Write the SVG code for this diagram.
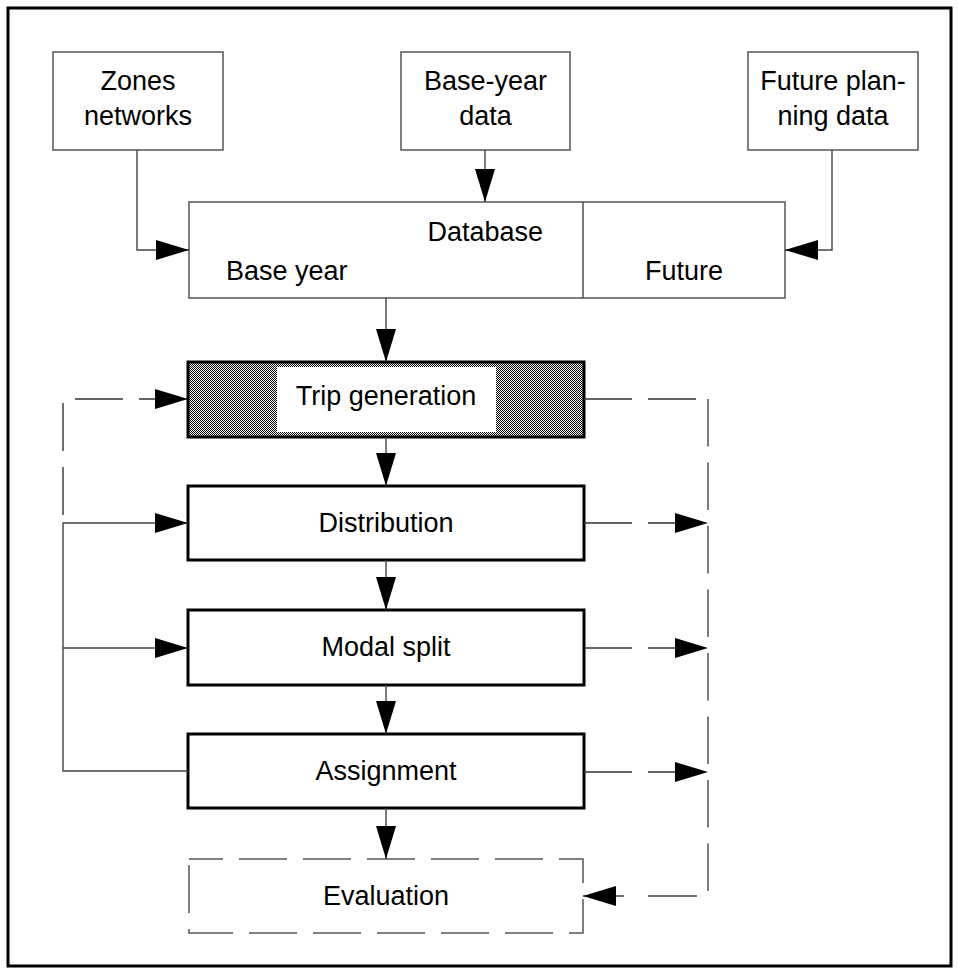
<svg xmlns="http://www.w3.org/2000/svg" width="958" height="974" viewBox="0 0 958 974">
<style>
text{font-family:"Liberation Sans",Arial,sans-serif;font-size:27px;fill:#000}
.thin{fill:#fff;stroke:#555;stroke-width:1.5}
.thick{fill:#fff;stroke:#000;stroke-width:3}
.ln{fill:none;stroke:#444;stroke-width:1.4}
.dash{fill:none;stroke:#333;stroke-width:1.4;stroke-dasharray:48 16}
</style>
<defs>
<marker id="ah" viewBox="0 0 33 20" refX="33" refY="10" markerWidth="33" markerHeight="20" markerUnits="userSpaceOnUse" orient="auto">
<path d="M0,0 L33,10 L0,20 z" fill="#000"/>
</marker>
<pattern id="stip" width="2" height="2" patternUnits="userSpaceOnUse">
<rect width="2" height="2" fill="#fff"/>
<rect width="1" height="1" fill="#000"/>
<rect x="1" y="1" width="1" height="1" fill="#000"/>
</pattern>
</defs>
<rect x="0" y="0" width="958" height="974" fill="#fff"/>
<rect x="8" y="8" width="943" height="958" fill="none" stroke="#000" stroke-width="3"/>

<g id="zones">
<rect class="thin" x="53" y="52" width="170" height="98"/>
<text x="138" y="90" text-anchor="middle">Zones</text>
<text x="138" y="125" text-anchor="middle">networks</text>
</g>
<g id="baseyear">
<rect class="thin" x="401" y="52" width="169" height="98"/>
<text x="485.5" y="90" text-anchor="middle">Base-year</text>
<text x="485.5" y="125" text-anchor="middle">data</text>
</g>
<g id="futureplanning">
<rect class="thin" x="748" y="52" width="170" height="98"/>
<text x="833" y="90" text-anchor="middle">Future plan-</text>
<text x="833" y="125" text-anchor="middle">ning data</text>
</g>
<g id="database">
<rect class="thin" x="189" y="202" width="596" height="96"/>
<line class="ln" x1="583" y1="202" x2="583" y2="298"/>
<text x="543" y="241" text-anchor="end">Database</text>
<text x="226" y="280">Base year</text>
<text x="684" y="280" text-anchor="middle">Future</text>
</g>
<g id="tripgeneration">
<rect x="188" y="362" width="396" height="75" fill="url(#stip)" stroke="#000" stroke-width="3"/>
<rect x="277" y="367" width="219" height="65" fill="#fff"/>
<text x="386" y="405" text-anchor="middle">Trip generation</text>
</g>
<g id="distribution">
<rect class="thick" x="188" y="486" width="396" height="74"/>
<text x="386" y="532" text-anchor="middle">Distribution</text>
</g>
<g id="modalsplit">
<rect class="thick" x="188" y="610" width="396" height="75"/>
<text x="386" y="656" text-anchor="middle">Modal split</text>
</g>
<g id="assignment">
<rect class="thick" x="188" y="734" width="396" height="74"/>
<text x="386" y="780" text-anchor="middle">Assignment</text>
</g>
<g id="evaluation">
<rect x="189" y="859" width="394" height="74" fill="#fff" stroke="#555" stroke-width="1.5" stroke-dasharray="48 16" stroke-dashoffset="14"/>
<text x="386" y="905" text-anchor="middle">Evaluation</text>
</g>

<g id="connectors">
<path class="ln" d="M137,150 V250 H189" marker-end="url(#ah)"/>
<path class="ln" d="M485,150 V202" marker-end="url(#ah)"/>
<path class="ln" d="M832,150 V250 H785" marker-end="url(#ah)"/>
<path class="ln" d="M386,298 V362" marker-end="url(#ah)"/>
<path class="ln" d="M386,437 V486" marker-end="url(#ah)"/>
<path class="ln" d="M386,560 V610" marker-end="url(#ah)"/>
<path class="ln" d="M386,685 V734" marker-end="url(#ah)"/>
<path class="ln" d="M386,808 V859" marker-end="url(#ah)"/>
<path class="dash" d="M63,515 V399 H188" marker-end="url(#ah)"/>
<path class="ln" d="M188,771 H63 V523 H188" marker-end="url(#ah)"/>
<path class="ln" d="M63,648 H188" marker-end="url(#ah)"/>
<path class="dash" d="M584,399 H708"/>
<path class="dash" d="M584,523 H708" marker-end="url(#ah)"/>
<path class="dash" d="M584,648 H708" marker-end="url(#ah)"/>
<path class="dash" d="M584,772 H708" marker-end="url(#ah)"/>
<path class="ln" d="M708,399 V892" stroke-dasharray="47.5 16"/>
<path class="ln" d="M697,896 H648 M624,896 H583" marker-end="url(#ah)"/>
</g>
</svg>
